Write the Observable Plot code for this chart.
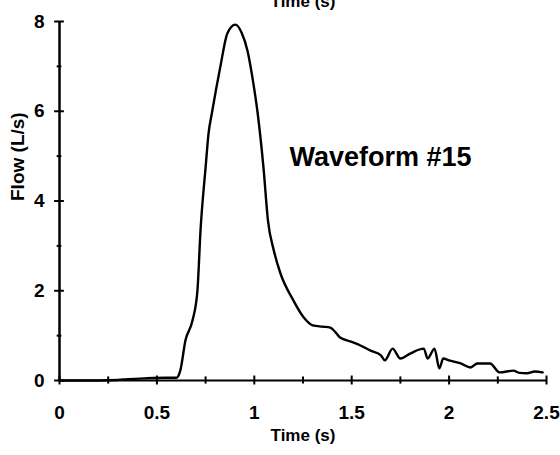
<!DOCTYPE html>
<html>
<head>
<meta charset="utf-8">
<script src="https://cdn.jsdelivr.net/npm/d3@7"></script>
<script src="https://cdn.jsdelivr.net/npm/@observablehq/plot@0.6"></script>
<style>
  html, body { margin: 0; padding: 0; background: #fff; }
  #chart { width: 560px; height: 455px; overflow: hidden; }
</style>
</head>
<body>
<div id="chart"></div>
<script>
const time = [0, 0.1, 0.2, 0.3, 0.35, 0.45, 0.55, 0.6, 0.62, 0.647, 0.683, 0.708, 0.724, 0.75, 0.765, 0.784, 0.826, 0.862, 0.903, 0.935, 0.965, 0.996, 1.016, 1.047, 1.07, 1.1, 1.134, 1.2, 1.253, 1.3, 1.35, 1.39, 1.44, 1.5, 1.545, 1.6, 1.65, 1.67, 1.71, 1.75, 1.8, 1.87, 1.89, 1.925, 1.95, 1.97, 2.0, 2.06, 2.11, 2.145, 2.21, 2.26, 2.33, 2.36, 2.4, 2.44, 2.48];
const flow = [0, 0, 0, 0.01, 0.03, 0.05, 0.06, 0.06, 0.22, 0.9, 1.34, 2.0, 3.35, 4.75, 5.5, 6.0, 7.0, 7.74, 7.93, 7.75, 7.35, 6.6, 6.0, 4.75, 3.57, 2.9, 2.39, 1.79, 1.41, 1.23, 1.2, 1.18, 0.96, 0.86, 0.78, 0.66, 0.56, 0.45, 0.71, 0.49, 0.6, 0.71, 0.49, 0.71, 0.27, 0.49, 0.45, 0.38, 0.29, 0.38, 0.38, 0.18, 0.22, 0.17, 0.16, 0.2, 0.18];
const xTicks = [0, 0.5, 1, 1.5, 2, 2.5];
const xMinor = [0.25, 0.75, 1.25, 1.75, 2.25];
const yTicks = [0, 2, 4, 6, 8];
const yMinor = [1, 3, 5, 7];
const xLabel = "Time (s)";
const yLabel = "Flow (L/s)";
const annotation = "Waveform #15";

const data = time.map((t, i) => ({t, f: flow[i]}));
const font = "'Liberation Sans', Arial, sans-serif";

const chart = Plot.plot({
  width: 560,
  height: 455,
  marginLeft: 59,
  marginRight: 14,
  marginTop: 21,
  marginBottom: 75,
  style: {fontFamily: font, fontSize: "19px", fontWeight: "bold", color: "#000", background: "#fff", overflow: "hidden"},
  x: {domain: [0, 2.5]},
  y: {domain: [0, 8]},
  marks: [
    Plot.axisX({ticks: xTicks, tickSize: 0, tickPadding: 25, tickFormat: d => String(d), label: null}),
    Plot.axisY({ticks: yTicks, tickSize: 0, tickPadding: 15, tickFormat: d => String(d), label: null}),
    Plot.ruleY([0], {stroke: "#000", strokeWidth: 2.2}),
    Plot.ruleX([0], {stroke: "#000", strokeWidth: 2.5}),
    Plot.ruleX(xTicks, {y1: -0.1, y2: 0.1, stroke: "#000", strokeWidth: 2}),
    Plot.ruleX(xMinor, {y1: -0.08, y2: 0.08, stroke: "#000", strokeWidth: 2}),
    Plot.ruleY(yTicks, {x1: -0.025, x2: 0.025, stroke: "#000", strokeWidth: 2}),
    Plot.ruleY(yMinor, {x1: -0.012, x2: 0.012, stroke: "#000", strokeWidth: 2}),
    Plot.line(data, {x: "t", y: "f", stroke: "#000", strokeWidth: 2.4, curve: "monotone-x"}),
    Plot.text([annotation], {x: 1.648, y: 4.97, fontSize: 27, fontWeight: "bold", fill: "#000"}),
    Plot.text([xLabel], {frameAnchor: "bottom", dy: 60, fontSize: 17, fontWeight: "bold", fill: "#000"}),
    Plot.text([xLabel], {frameAnchor: "top", dy: -27, fontSize: 17, fontWeight: "bold", fill: "#000"}),
    Plot.text([yLabel], {frameAnchor: "left", dx: -42, rotate: -90, fontSize: 19, fontWeight: "bold", fill: "#000"})
  ]
});
document.getElementById("chart").append(chart);
</script>
</body>
</html>
